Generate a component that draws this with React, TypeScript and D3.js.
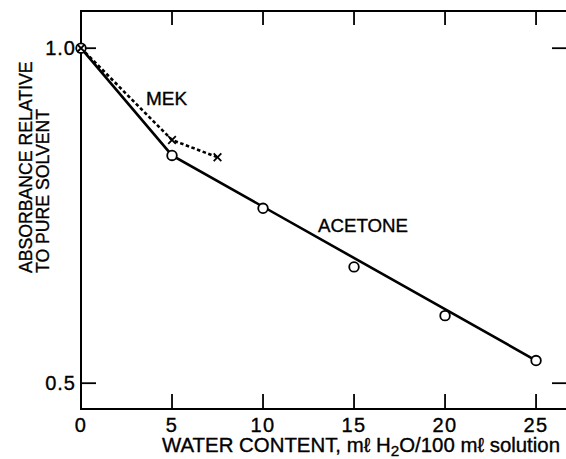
import React from "react";
import * as d3 from "d3";

// Absorbance relative to the pure solvent vs. water content
const waterContent = [0, 5, 10, 15, 20, 25];
const acetoneAbs = [1.0, 0.801, 0.718, 0.636, 0.575, 0.524];

// Drawn acetone curve (break at 5, straight to 25)
const acetoneCurveX = [0, 5, 25];
const acetoneCurveY = [1.0, 0.801, 0.524];

const mekWater = [0, 5, 7.5];
const mekAbs = [1.0, 0.827, 0.798];

const xTickValues = [5, 10, 15, 20, 25];
const xTickLabels = [0, 5, 10, 15, 20, 25];
const yTickValues = [1.0, 0.5];
const yTickLabels = ["1.0", "0.5"];

const W = 566;
const H = 459;
const left = 81;
const right = 567;
const top = 11;
const bottom = 409;

const FONT = "'Liberation Sans', Arial, Helvetica, sans-serif";

export default function App() {
  const x = d3.scaleLinear().domain([0, 26.7]).range([left, right]);
  const y = d3.scaleLog().domain([0.474, 1.08]).range([bottom, top]);

  const line = d3
    .line<[number, number]>()
    .x((d) => x(d[0]))
    .y((d) => y(d[1]));

  const acetoneLine = line(acetoneCurveX.map((v, i) => [v, acetoneCurveY[i]]) as [number, number][]) || "";
  const mekLine = line(mekWater.map((v, i) => [v, mekAbs[i]]) as [number, number][]) || "";

  const tickLen = 15;

  return (
    <svg
      width={W}
      height={H}
      viewBox={`0 0 ${W} ${H}`}
      style={{ position: "absolute", left: 0, top: 0, background: "#fff" }}
    >
      <rect x={0} y={0} width={W} height={H} fill="#fff" />
      {/* frame */}
      <g stroke="#000" strokeWidth={2} fill="none">
        <line x1={left} y1={top} x2={left} y2={bottom + 1} />
        <line x1={left - 1} y1={bottom} x2={right} y2={bottom} />
        <line x1={left - 1} y1={top} x2={right} y2={top} />
        <line x1={right} y1={top} x2={right} y2={bottom} />
      </g>
      {/* inward ticks */}
      <g stroke="#000" strokeWidth={1.8}>
        {xTickValues.map((v) => (
          <g key={"xt" + v}>
            <line x1={x(v)} x2={x(v)} y1={bottom} y2={bottom - tickLen} />
            <line x1={x(v)} x2={x(v)} y1={top} y2={top + tickLen - 1} />
          </g>
        ))}
        {yTickValues.map((v) => (
          <g key={"yt" + v}>
            <line x1={left} x2={left + tickLen} y1={y(v)} y2={y(v)} />
            <line x1={right} x2={right - tickLen} y1={y(v)} y2={y(v)} />
          </g>
        ))}
      </g>
      {/* tick labels */}
      <g fontFamily={FONT} fontSize={20} fill="#000" stroke="#000" strokeWidth={0.35}>
        {xTickLabels.map((v) => (
          <text key={"xl" + v} x={x(v)} y={432} textAnchor="middle" letterSpacing={1.5}>
            {v}
          </text>
        ))}
        {yTickValues.map((v, i) => (
          <text key={"yl" + v} x={76} y={y(v) + 7} textAnchor="end" letterSpacing={1}>
            {yTickLabels[i]}
          </text>
        ))}
      </g>
      {/* axis titles */}
      <g fontFamily={FONT} fontSize={19} fill="#000" stroke="#000" strokeWidth={0.35}>
        <text
          x={162}
          y={452}
          fontSize={20}
          textLength={398}
          lengthAdjust="spacingAndGlyphs"
        >
          WATER CONTENT, mℓ H
          <tspan fontSize={15} dy={4}>2</tspan>
          <tspan dy={-4}>O/100 mℓ solution</tspan>
        </text>
        <text transform="translate(32,273) rotate(-90) scale(0.93,1)">
          ABSORBANCE RELATIVE
        </text>
        <text transform="translate(49,273) rotate(-90) scale(0.93,1)">
          TO PURE SOLVENT
        </text>
      </g>
      {/* series */}
      <path d={acetoneLine} fill="none" stroke="#000" strokeWidth={2.6} />
      <path d={mekLine} fill="none" stroke="#000" strokeWidth={2.6} strokeDasharray="3.5,2.5" />
      {waterContent.map((v, i) => (
        <circle
          key={"ac" + v}
          cx={x(v)}
          cy={y(acetoneAbs[i])}
          r={4.8}
          fill="#fff"
          stroke="#000"
          strokeWidth={1.8}
        />
      ))}
      {mekWater.map((v, i) => {
        const cx = x(v);
        const cy = y(mekAbs[i]);
        const s = 3.8;
        return (
          <g key={"mk" + v} stroke="#000" strokeWidth={1.8}>
            <line x1={cx - s} y1={cy - s} x2={cx + s} y2={cy + s} />
            <line x1={cx - s} y1={cy + s} x2={cx + s} y2={cy - s} />
          </g>
        );
      })}
      {/* series labels */}
      <g fontFamily={FONT} fontSize={19} fill="#000" stroke="#000" strokeWidth={0.35}>
        <text x={146} y={105}>MEK</text>
        <text x={318} y={232} textLength={90} lengthAdjust="spacingAndGlyphs">ACETONE</text>
      </g>
    </svg>
  );
}
